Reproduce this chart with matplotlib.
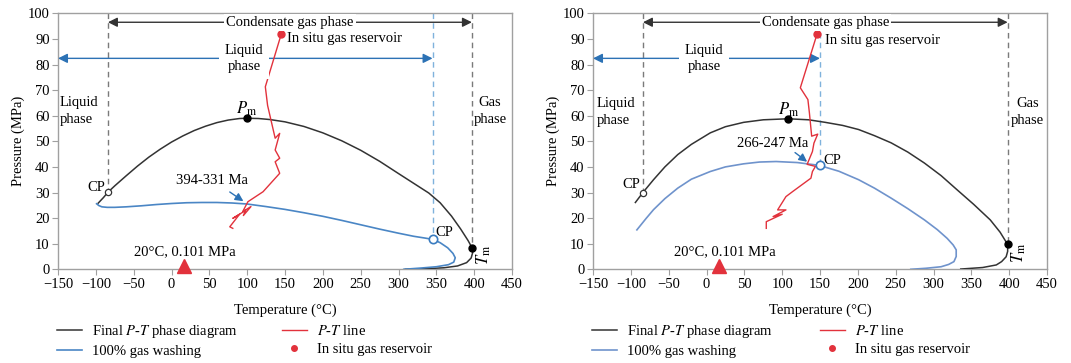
import matplotlib
matplotlib.use("Agg")
import matplotlib.pyplot as plt

plt.rcParams['font.family'] = ['Liberation Serif', 'DejaVu Serif']
plt.rcParams['mathtext.fontset'] = 'stix'

# ---------------- data: left panel ----------------
L_black_T = [-97, -90, -84, -75, -60, -45, -30, -15, 0, 15, 30, 45, 60, 75, 90, 100, 115, 130, 150,
             175, 200, 225, 250, 275, 300, 320, 340, 355, 370, 382, 392, 397, 398, 396, 390, 378,
             360, 335, 309]
L_black_P = [25.8, 28.0, 30.1, 32.6, 36.5, 40.3, 43.8, 46.9, 49.7, 52.1, 54.2, 55.9, 57.3, 58.3,
             58.9, 59.0, 58.9, 58.5, 57.6, 55.8, 53.3, 50.2, 46.5, 42.2, 37.4, 33.6, 29.8, 26.0,
             20.8, 15.8, 11.2, 8.5, 6.5, 4.4, 2.6, 1.3, 0.6, 0.2, 0.0]
L_blue_T = [-99, -96, -92, -85, -75, -60, -40, -20, 0, 20, 40, 60, 80, 100, 125, 150, 175, 200,
            225, 250, 275, 300, 320, 335, 345, 355, 365, 372, 375, 373, 366, 350, 330, 307]
L_blue_P = [25.6, 24.9, 24.4, 24.2, 24.2, 24.4, 24.8, 25.3, 25.7, 26.0, 26.1, 26.1, 25.9, 25.5,
            24.5, 23.4, 22.1, 20.7, 19.1, 17.4, 15.7, 14.1, 12.9, 12.2, 11.7, 10.4, 8.4, 6.2,
            4.5, 2.8, 1.8, 1.0, 0.5, 0.0]
L_red_T = [145, 124, 127, 137, 143, 137, 143, 137, 143, 121, 101, 94, 105, 95, 98, 81, 90, 77, 81]
L_red_P = [91.8, 71.3, 64, 51.2, 53.1, 46.6, 43.4, 42.0, 37.5, 30.3, 26.4, 22.5, 24.5, 21.0,
           23.0, 19.9, 21.5, 16.6, 16.0]
L_cp_black = (-84, 30.1)
L_cp_blue = (345, 11.7)
L_pm = (100, 59.0)
L_tm = (397, 8.5)
L_gas = (145, 91.8)

# ---------------- data: right panel ----------------
R_black_T = [-94, -84, -70, -55, -38, -20, 5, 25, 49, 75, 108, 135, 157, 180, 201, 222, 244, 266,
             288, 310, 331, 353, 375, 388, 398, 398, 396, 390, 383, 365, 336]
R_black_P = [26.1, 30.0, 35.0, 40.0, 44.8, 48.8, 53.3, 55.7, 57.4, 58.4, 58.8, 58.4, 57.4, 56.2,
             54.6, 52.2, 49.4, 45.8, 41.5, 36.6, 31.1, 25.4, 19.3, 14.5, 9.7, 7.0, 4.9, 3.0, 1.7,
             0.7, 0.1]
R_blue_T = [-92, -80, -70, -55, -38, -20, 5, 25, 49, 70, 92, 120, 149, 175, 201, 222, 244, 266,
            288, 305, 318, 326, 330, 330, 327, 320, 310, 290, 270]
R_blue_P = [15.4, 19.8, 23.3, 27.6, 31.7, 35.2, 38.2, 40.0, 41.2, 41.9, 42.1, 41.7, 40.6, 38.3,
            35.0, 31.7, 27.8, 23.7, 19.3, 15.5, 12.1, 9.5, 7.6, 5.0, 3.0, 1.9, 1.0, 0.4, 0.0]
R_red_T = [146, 124, 134, 136, 139, 147, 142, 140, 133, 144, 140, 138, 114, 105, 94, 105, 88, 100,
           79, 79]
R_red_P = [91.8, 70.9, 66.3, 61.1, 52.0, 52.8, 49.3, 46.0, 41.0, 40.2, 38.2, 35.6, 30.4, 28.4,
           23.2, 23.2, 20.6, 21.5, 18.6, 16.0]
R_cp_black = (-84, 30.0)
R_cp_blue = (150, 40.6)
R_pm = (108, 58.8)
R_tm = (398, 9.7)
R_gas = (146, 91.8)

x_ticks = [-150, -100, -50, 0, 50, 100, 150, 200, 250, 300, 350, 400, 450]
y_ticks = [0, 10, 20, 30, 40, 50, 60, 70, 80, 90, 100]

BLACK = '#333333'
BLUE_L = '#4a86c5'
BLUE_R = '#6f93cc'
RED = '#e2323c'
ARROW_BLUE = '#2c72b5'
GRAY = '#7a7a7a'
SPINE = '#a0a0a0'

fig = plt.figure(figsize=(10.71, 3.63), dpi=100)
axL = fig.add_axes([58 / 1071, 1 - 269.3 / 363, 454 / 1071, 256 / 363])
axR = fig.add_axes([593 / 1071, 1 - 269.3 / 363, 454 / 1071, 256 / 363])

FS = 10.5


def panel(ax, bT, bP, uT, uP, rT, rP, cpb, cpu, pm, tm, gas, blue, age, age_xy,
          arr_from, arr_to, liq_x, cp_u_text, cp_b_text, gas_text, liq_left, gasph, pm_text, tm_text,
          tri_text_x):
    ax.set_xlim(-150, 450)
    ax.set_ylim(0, 100)
    ax.set_xticks(x_ticks)
    ax.set_yticks(y_ticks)
    ax.set_xticklabels([str(t).replace('-', '\u2212') for t in x_ticks])
    ax.tick_params(labelsize=10.5, color=SPINE, length=4, direction='out', pad=2)
    for s in ax.spines.values():
        s.set_color(SPINE)
        s.set_linewidth(1.0)
    ax.set_xlabel('Temperature (\u00b0C)', fontsize=10.5, labelpad=9)
    ax.set_ylabel('Pressure (MPa)', fontsize=10.5, labelpad=2)

    # dashed verticals
    ax.plot([cpb[0], cpb[0]], [100, cpb[1]], ls=(0, (4, 3)), color=GRAY, lw=1.0, zorder=1)
    ax.plot([tm[0], tm[0]], [100, tm[1]], ls=(0, (4, 3)), color=GRAY, lw=1.0, zorder=1)
    ax.plot([cpu[0], cpu[0]], [100, cpu[1]], ls=(0, (4, 3)), color='#7fb2dc', lw=1.0, zorder=1)

    # curves
    ax.plot(bT, bP, color=BLACK, lw=1.1, label='Final $P$-$T$ phase diagram', zorder=3)
    ax.plot(uT, uP, color=blue, lw=1.2, label='100% gas washing', zorder=3)
    ax.plot(rT, rP, color=RED, lw=1.0, label='$P$-$T$ line', zorder=4)
    ax.plot([gas[0]], [gas[1]], 'o', color=RED, ms=5, zorder=5,
            label='In situ gas reservoir', ls='none')

    # points
    ax.plot([cpb[0]], [cpb[1]], 'o', mfc='white', mec=BLACK, ms=4.5, mew=0.9, zorder=6)
    ax.plot([cpu[0]], [cpu[1]], 'o', mfc='white', mec='#3a7cc0', ms=6, mew=1.2, zorder=6)
    ax.plot([pm[0]], [pm[1]], 'o', color='black', ms=5, zorder=6)
    ax.plot([tm[0]], [tm[1]], 'o', color='black', ms=5, zorder=6)

    # arrows
    ax.annotate('', xy=(cpb[0], 96.5), xytext=(tm[0], 96.5),
                arrowprops=dict(arrowstyle='<|-|>', color=BLACK, lw=1.0,
                                mutation_scale=14, shrinkA=0, shrinkB=0))
    ax.text((cpb[0] + tm[0]) / 2 + 0, 96.5, 'Condensate gas phase', ha='center', va='center',
            fontsize=FS, bbox=dict(fc='white', ec='none', pad=1.5), zorder=7)
    ax.annotate('', xy=(-150, 82.4), xytext=(cpu[0], 82.4),
                arrowprops=dict(arrowstyle='<|-|>', color=ARROW_BLUE, lw=1.0,
                                mutation_scale=14, shrinkA=0, shrinkB=0))
    ax.text(liq_x, 82.4, 'Liquid\nphase', ha='center', va='center', fontsize=FS,
            linespacing=1.35, bbox=dict(fc='white', ec='none', pad=4), zorder=7)

    ax.text(gas_text[0], gas_text[1], 'In situ gas reservoir', ha='left', va='center', fontsize=FS)
    ax.text(liq_left[0], liq_left[1], 'Liquid\nphase', ha='left', va='center', fontsize=FS,
            linespacing=1.4)
    ax.text(gasph[0], gasph[1], 'Gas\nphase', ha='center', va='center', fontsize=FS,
            linespacing=1.4)
    ax.text(cp_b_text[0], cp_b_text[1], 'CP', ha='right', va='center', fontsize=FS)
    ax.text(cp_u_text[0], cp_u_text[1], 'CP', ha='left', va='center', fontsize=FS)
    ax.text(pm_text[0], pm_text[1], '$P_{\\mathrm{m}}$', ha='center', va='center', fontsize=12)
    ax.text(tm_text[0], tm_text[1], '$T_{\\mathrm{m}}$', ha='center', va='center', fontsize=12,
            rotation=90)

    ax.text(age_xy[0], age_xy[1], age, ha='center', va='center', fontsize=FS)
    ax.annotate('', xy=arr_to, xytext=arr_from,
                arrowprops=dict(arrowstyle='-|>', color=ARROW_BLUE, lw=1.0,
                                mutation_scale=12, shrinkA=0, shrinkB=0))

    ax.plot([17], [1.3], marker='^', color=RED, ms=10, clip_on=False, zorder=6)
    ax.text(tri_text_x, 7.0, '20\u00b0C, 0.101 MPa', ha='center', va='center', fontsize=FS)


panel(axL, L_black_T, L_black_P, L_blue_T, L_blue_P, L_red_T, L_red_P,
      L_cp_black, L_cp_blue, L_pm, L_tm, L_gas, BLUE_L,
      '394-331 Ma', (53, 34.6), (77, 30.2), (95, 26.6), 96,
      (349, 14.2), (-88, 31.8), (153, 90.3), (-148, 62), (421, 62), (99, 62.8), (413, 5.5), 17)

panel(axR, R_black_T, R_black_P, R_blue_T, R_blue_P, R_red_T, R_red_P,
      R_cp_black, R_cp_blue, R_pm, R_tm, R_gas, BLUE_R,
      '266-247 Ma', (88, 49.0), (117, 45.6), (133, 42.0), -3,
      (154, 42.6), (-87, 33.0), (156, 89.2), (-145, 61.5), (424, 61.5), (109, 62.3), (413, 6.5), 24)

for ax, x0, cs in [(axL, 50 / 1071, 3.0), (axR, 585 / 1071, 3.2)]:
    ax.legend(loc='upper left', bbox_to_anchor=(x0, 0.13), bbox_transform=fig.transFigure,
              ncol=2, frameon=False, fontsize=10.5, handlelength=1.7, handletextpad=0.7,
              columnspacing=cs, labelspacing=0.35, borderpad=0, markerscale=0.8)

fig.savefig('out.png', dpi=100)
